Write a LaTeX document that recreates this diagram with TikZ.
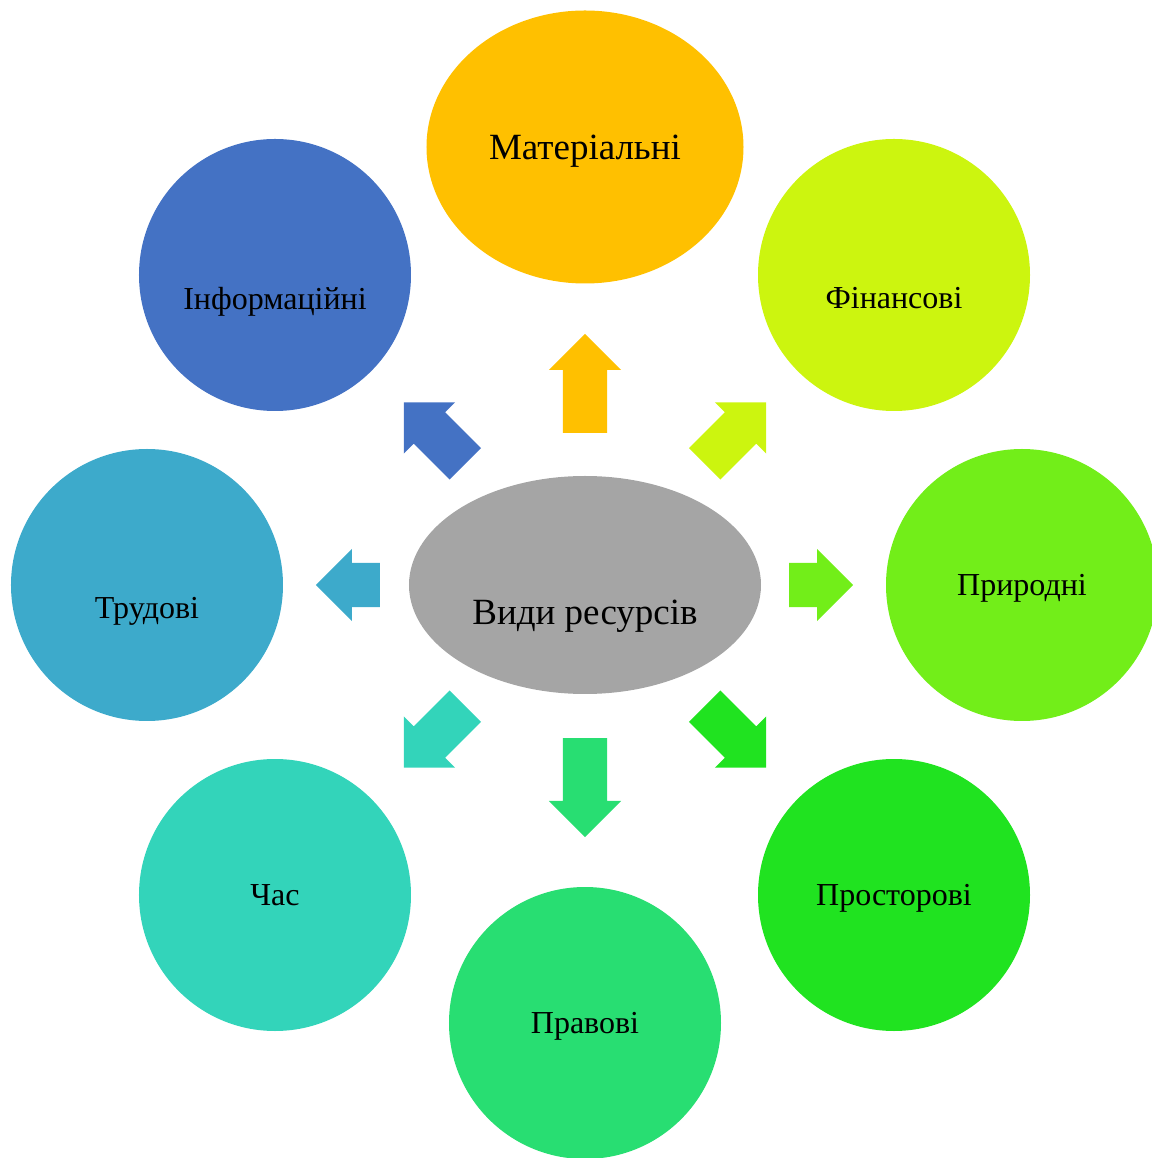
\documentclass[tikz,border=0pt]{standalone}
\usepackage{fontspec}
\setmainfont{Liberation Serif}
\usetikzlibrary{shapes.geometric, shapes.arrows}

\definecolor{cGold}{HTML}{FFC000}
\definecolor{cLime}{HTML}{CCF50F}
\definecolor{cGrass}{HTML}{72EE19}
\definecolor{cGreen}{HTML}{20E320}
\definecolor{cMint}{HTML}{28DE72}
\definecolor{cTeal}{HTML}{33D4BA}
\definecolor{cSky}{HTML}{3DAACB}
\definecolor{cBlue}{HTML}{4472C4}
\definecolor{cGray}{HTML}{A5A5A5}

\begin{document}
\begin{tikzpicture}[
    x=1pt, y=1pt,
    every node/.style={align=center, inner sep=0pt, text=black},
    res/.style={circle, minimum size=272pt, text depth=0pt, font=\fontsize{32}{38}\selectfont},
    lbl/.style={text depth=0pt, font=\fontsize{32}{38}\selectfont},
    blockarrow/.style={single arrow, single arrow head extend=14pt, text height=22pt, text depth=22pt, inner sep=0pt, anchor=tail}
]
\useasboundingbox (-585,-573) rectangle (566,585);

% Nodes
\node (centre) [ellipse, fill=cGray, minimum width=352pt, minimum height=218pt,
    label={[text depth=0pt, font=\fontsize{37}{44}\selectfont, yshift=-27pt]center:Види ресурсів}] at (0,0) {};
\node (mat) [ellipse, fill=cGold, minimum width=317pt, minimum height=273pt, text depth=0pt, font=\fontsize{37}{44}\selectfont] at (0,438) {Матеріальні};
\node (fin) [res, fill=cLime, label={[lbl, yshift=-23pt]center:Фінансові}] at (309,310) {};
\node (pryr) [res, fill=cGrass] at (437,0) {Природні};
\node (prost) [res, fill=cGreen] at (309,-310) {Просторові};
\node (prav) [res, fill=cMint] at (0,-438) {Правові};
\node (chas) [res, fill=cTeal] at (-310,-310) {Час};
\node (trud) [res, fill=cSky, label={[lbl, yshift=-23pt]center:Трудові}] at (-438,0) {};
\node (inf) [res, fill=cBlue, label={[lbl, yshift=-23pt]center:Інформаційні}] at (-310,310) {};

% Arrows
\node (arrMat) [blockarrow, fill=cGold, minimum height=99pt, rotate=90] at (0,152) {};
\node (arrFin) [blockarrow, fill=cLime, minimum height=87pt, rotate=45] at (119.5,121) {};
\node (arrPryr) [blockarrow, fill=cGrass, minimum height=64pt] at (204,0) {};
\node (arrProst) [blockarrow, fill=cGreen, minimum height=87pt, rotate=-45] at (119.5,-121) {};
\node (arrPrav) [blockarrow, fill=cMint, minimum height=99pt, rotate=-90] at (0,-153) {};
\node (arrChas) [blockarrow, fill=cTeal, minimum height=87pt, rotate=-135] at (-119.5,-121) {};
\node (arrTrud) [blockarrow, fill=cSky, minimum height=64pt, rotate=180] at (-205,0) {};
\node (arrInf) [blockarrow, fill=cBlue, minimum height=87pt, rotate=135] at (-119.5,121) {};

\end{tikzpicture}
\end{document}
